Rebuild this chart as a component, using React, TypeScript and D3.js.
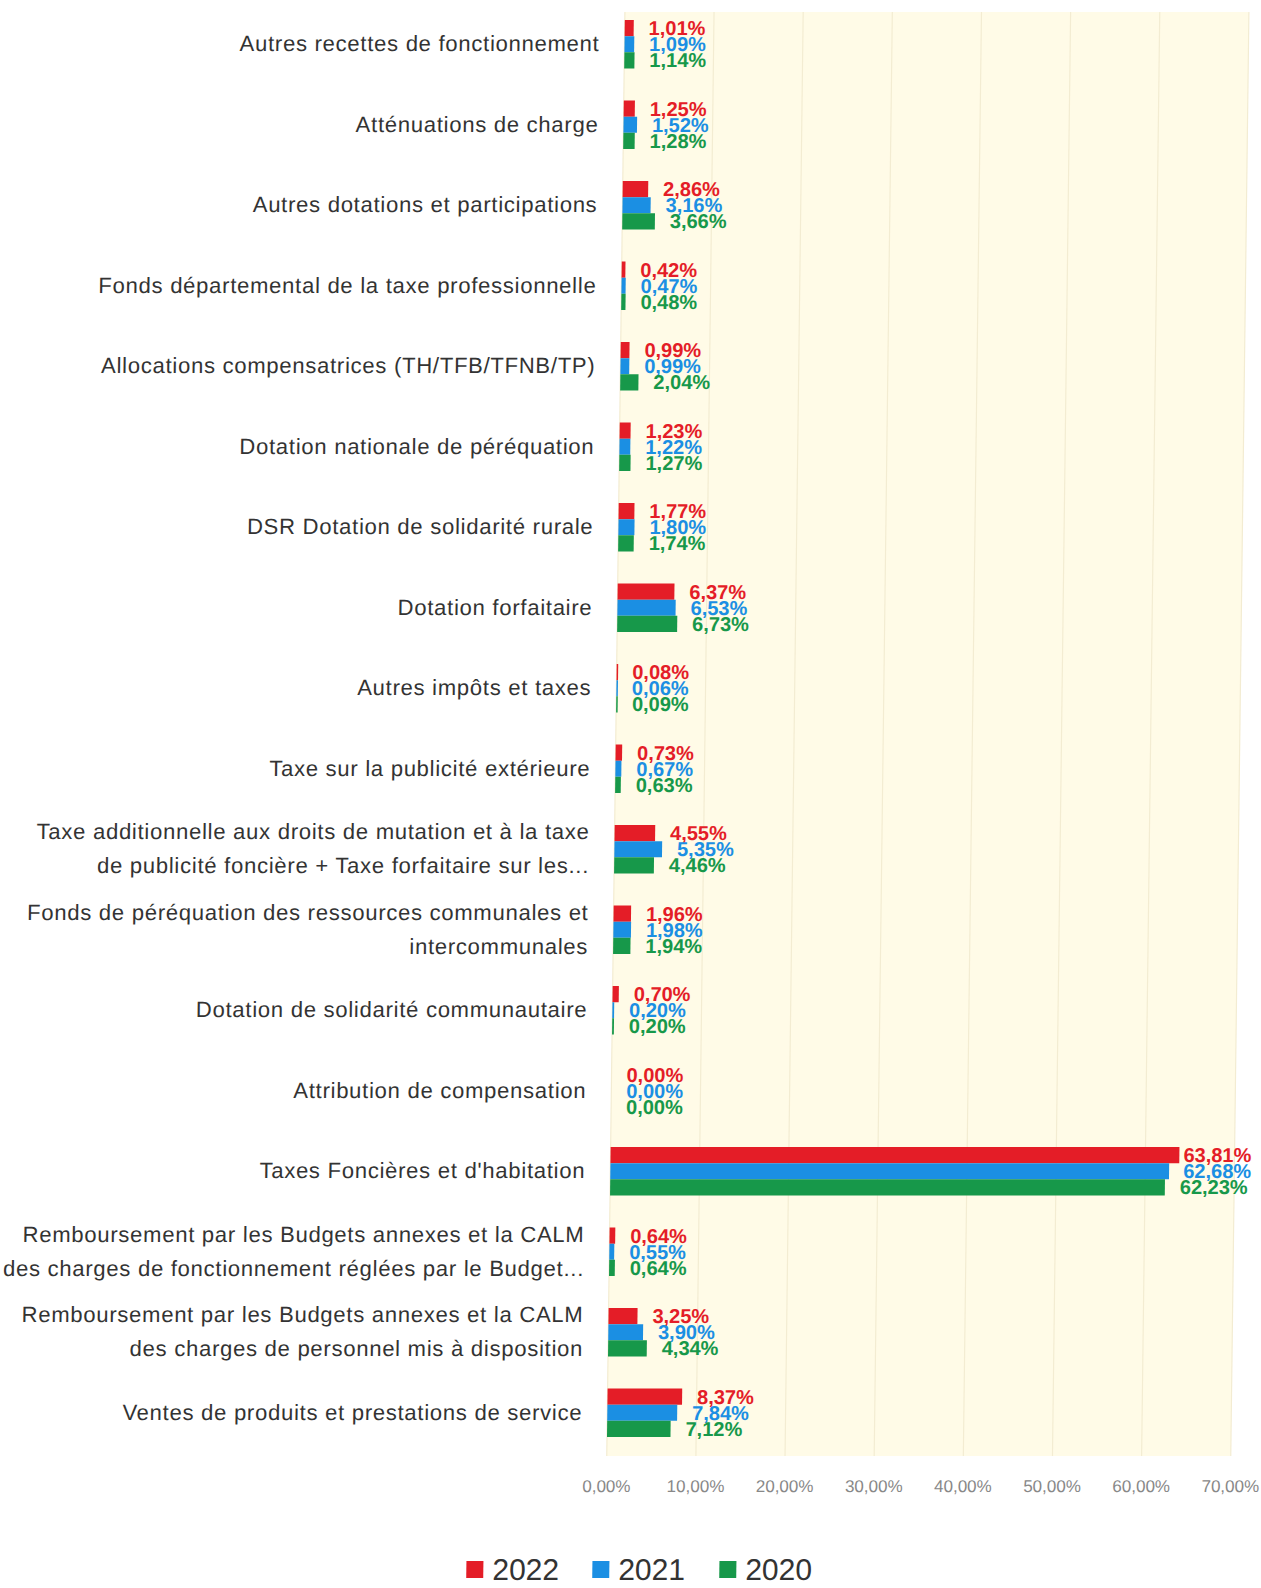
import React from "react";
import * as d3 from "d3";

const categories: string[][] = [
  ["Autres recettes de fonctionnement"],
  ["Atténuations de charge"],
  ["Autres dotations et participations"],
  ["Fonds départemental de la taxe professionnelle"],
  ["Allocations compensatrices (TH/TFB/TFNB/TP)"],
  ["Dotation nationale de péréquation"],
  ["DSR Dotation de solidarité rurale"],
  ["Dotation forfaitaire"],
  ["Autres impôts et taxes"],
  ["Taxe sur la publicité extérieure"],
  ["Taxe additionnelle aux droits de mutation et à la taxe", "de publicité foncière + Taxe forfaitaire sur les..."],
  ["Fonds de péréquation des ressources communales et", "intercommunales"],
  ["Dotation de solidarité communautaire"],
  ["Attribution de compensation"],
  ["Taxes Foncières et d'habitation"],
  ["Remboursement par les Budgets annexes et la CALM", "des charges de fonctionnement réglées par le Budget..."],
  ["Remboursement par les Budgets annexes et la CALM", "des charges de personnel mis à disposition"],
  ["Ventes de produits et prestations de service"],
];

const values2022 = [1.01, 1.25, 2.86, 0.42, 0.99, 1.23, 1.77, 6.37, 0.08, 0.73, 4.55, 1.96, 0.7, 0.0, 63.81, 0.64, 3.25, 8.37];
const values2021 = [1.09, 1.52, 3.16, 0.47, 0.99, 1.22, 1.8, 6.53, 0.06, 0.67, 5.35, 1.98, 0.2, 0.0, 62.68, 0.55, 3.9, 7.84];
const values2020 = [1.14, 1.28, 3.66, 0.48, 2.04, 1.27, 1.74, 6.73, 0.09, 0.63, 4.46, 1.94, 0.2, 0.0, 62.23, 0.64, 4.34, 7.12];

const seriesNames = ["2022", "2021", "2020"];
const seriesColors = ["#e41d27", "#1b8fe3", "#17984a"];
const xTicks = [0, 10, 20, 30, 40, 50, 60, 70];

const fmt = (v: number) => v.toFixed(2).replace(".", ",") + "%";

export default function App() {
  const W = 1261;
  const H = 1588;
  const x = d3.scaleLinear().domain([0, 70]).range([615, 1239]);
  const y = d3
    .scaleBand<number>()
    .domain(d3.range(categories.length))
    .range([4, 1453])
    .paddingInner(0.4)
    .paddingOuter(0.2);
  const series = [values2022, values2021, values2020];
  const sub = d3.scaleBand<number>().domain([0, 1, 2]).range([0, y.bandwidth()]);
  const labelFont = "'Liberation Sans', Arial, sans-serif";
  const labelRight = 590;
  const skew = -0.72;
  const shift = -800 * Math.tan((skew * Math.PI) / 180);

  return (
    <svg width={W} height={H} style={{ position: "absolute", left: 0, top: 0, background: "#fff" }}>
      <g transform={`translate(${shift},0) skewX(${skew})`}>
        <rect x={x(0)} y={12} width={x(70) - x(0)} height={1456 - 12} fill="#fffbe7" />
        {xTicks.map((t) => (
          <line key={t} x1={x(t)} x2={x(t)} y1={12} y2={1456} stroke="#f3ecd2" strokeWidth={1.2} />
        ))}
        {categories.map((lines, i) => {
          const cy = (y(i) as number) + y.bandwidth() / 2;
          const lh = 34;
          return (
            <text
              key={i}
              x={labelRight}
              textAnchor="end"
              fontFamily={labelFont}
              fontSize={22}
              letterSpacing={0.75}
              fill="#333"
            >
              {lines.map((l, k) => (
                <tspan key={k} x={labelRight} y={cy + 7 + (k - (lines.length - 1) / 2) * lh}>
                  {l}
                </tspan>
              ))}
            </text>
          );
        })}
        {series.map((vals, s) =>
          vals.map((v, i) => {
            const by = (y(i) as number) + (sub(s) as number);
            const lx = Math.min(x(v) + 15, 1252 - 64);
            return (
              <g key={`${s}-${i}`}>
                <rect
                  x={x(0)}
                  y={by}
                  width={Math.max(x(v) - x(0), v > 0 ? 1.5 : 0)}
                  height={sub.bandwidth()}
                  fill={seriesColors[s]}
                />
                <text
                  x={lx}
                  y={by + sub.bandwidth() / 2 + 7}
                  fontFamily={labelFont}
                  fontWeight="bold"
                  fontSize={20}
                  fill={seriesColors[s]}
                >
                  {fmt(v)}
                </text>
              </g>
            );
          })
        )}
        {xTicks.map((t) => (
          <text
            key={t}
            x={x(t)}
            y={1492}
            textAnchor="middle"
            fontFamily={labelFont}
            fontSize={17}
            fill="#888"
          >
            {fmt(t)}
          </text>
        ))}
        {seriesNames.map((n, s) => {
          const lx = [476, 602, 729][s];
          return (
            <g key={n}>
              <rect x={lx} y={1561} width={17} height={17} fill={seriesColors[s]} />
              <text x={lx + 26} y={1580} fontFamily={labelFont} fontSize={30} fill="#333">
                {n}
              </text>
            </g>
          );
        })}
      </g>
    </svg>
  );
}
